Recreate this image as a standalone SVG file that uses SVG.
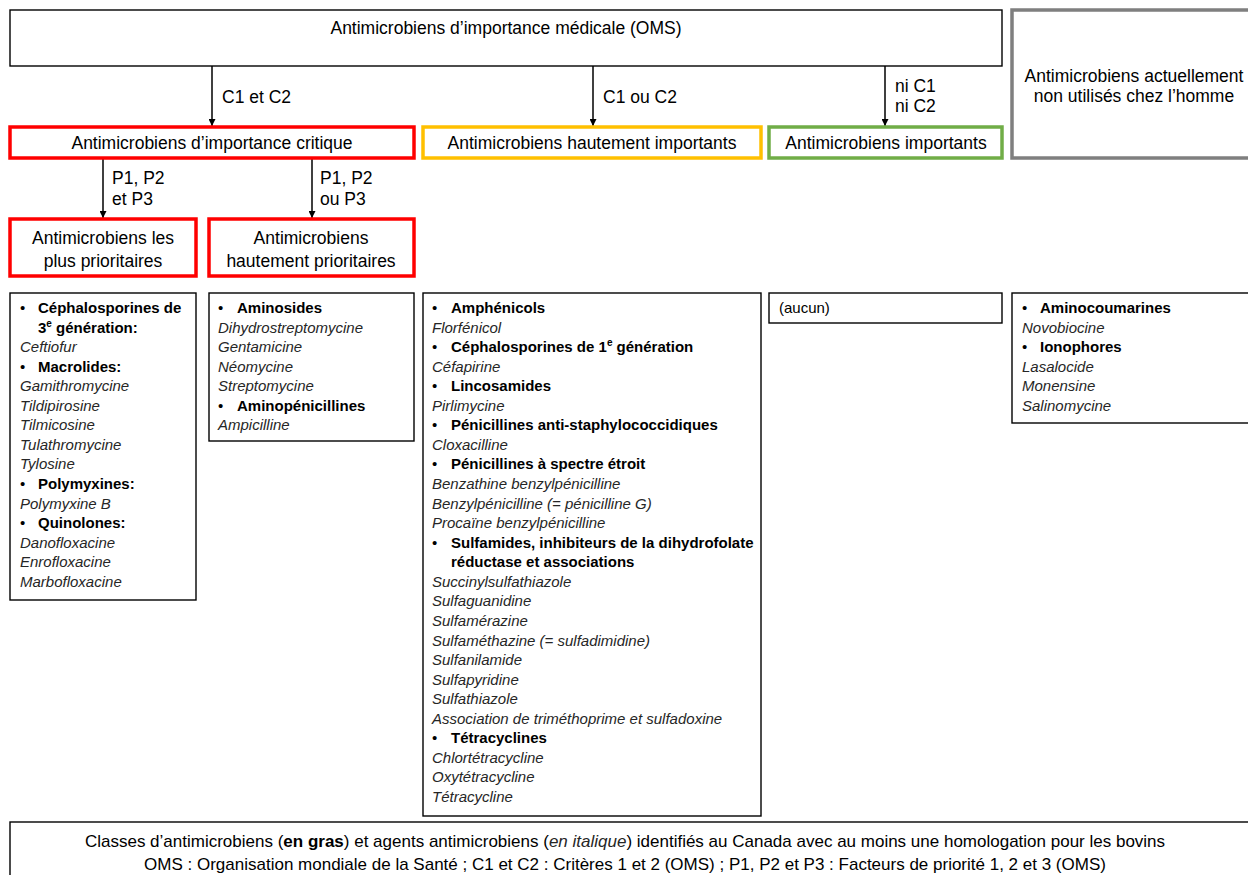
<svg xmlns="http://www.w3.org/2000/svg" width="1248" height="875" viewBox="0 0 1248 875">
<style>
text{font-family:"Liberation Sans",Arial,sans-serif;fill:#000}
.h{font-size:17.5px}
.c{text-anchor:middle}
.l{font-size:15px}
.b{font-weight:bold}
.u{font-weight:normal}
.i{font-style:italic;fill:#262626}
.box{fill:#fff;stroke:#000;stroke-width:1.4}
.red{fill:#fff;stroke:#ff0000;stroke-width:3.5}
.org{fill:#fff;stroke:#ffc000;stroke-width:3.5}
.grn{fill:#fff;stroke:#70ad47;stroke-width:3.5}
.gry{fill:#fff;stroke:#7f7f7f;stroke-width:3.5}
.edge{stroke:#000;stroke-width:1.5;fill:none;marker-end:url(#ah)}
</style>
<defs>
<marker id="ah" viewBox="0 0 10 10" refX="10" refY="5" markerWidth="7" markerHeight="7" markerUnits="userSpaceOnUse" orient="auto">
<path d="M0,0 L10,5 L0,10 z" fill="#000"/>
</marker>
</defs>
<rect width="1248" height="875" fill="#fff"/>

<g id="connectors">
<line class="edge" x1="212" y1="66" x2="212" y2="126"/>
<line class="edge" x1="593" y1="66" x2="593" y2="126"/>
<line class="edge" x1="885" y1="66" x2="885" y2="126"/>
<line class="edge" x1="103" y1="158" x2="103" y2="218"/>
<line class="edge" x1="312" y1="158" x2="312" y2="218"/>
<text class="h" x="222" y="103">C1 et C2</text>
<text class="h" x="603" y="103">C1 ou C2</text>
<text class="h" x="895" y="92">ni C1</text>
<text class="h" x="895" y="112">ni C2</text>
<text class="h" x="112" y="184">P1, P2</text>
<text class="h" x="112" y="205">et P3</text>
<text class="h" x="320" y="184">P1, P2</text>
<text class="h" x="320" y="205">ou P3</text>
</g>

<g id="oms">
<rect class="box" x="10" y="10" width="992" height="56"/>
<text class="h c" x="506" y="34">Antimicrobiens d’importance médicale (OMS)</text>
</g>

<g id="non-utilises">
<rect class="gry" x="1012" y="10" width="250" height="148"/>
<text class="h c" x="1134" y="82">Antimicrobiens actuellement</text>
<text class="h c" x="1134" y="102">non utilisés chez l’homme</text>
</g>

<g id="critique">
<rect class="red" x="10" y="127" width="404" height="31"/>
<text class="h c" x="212" y="149">Antimicrobiens d’importance critique</text>
</g>

<g id="hautement-importants">
<rect class="org" x="423" y="127" width="338" height="31"/>
<text class="h c" x="592" y="149">Antimicrobiens hautement importants</text>
</g>

<g id="importants">
<rect class="grn" x="769" y="127" width="233" height="31"/>
<text class="h c" x="886" y="149">Antimicrobiens importants</text>
</g>

<g id="plus-prioritaires">
<rect class="red" x="10" y="219" width="186" height="57"/>
<text class="h c" x="103" y="244">Antimicrobiens les</text>
<text class="h c" x="103" y="267">plus prioritaires</text>
</g>

<g id="hautement-prioritaires">
<rect class="red" x="209" y="219" width="205" height="57"/>
<text class="h c" x="311" y="244">Antimicrobiens</text>
<text class="h c" x="311" y="267">hautement prioritaires</text>
</g>

<g id="liste-plus-prioritaires">
<rect class="box" x="10" y="293" width="186" height="307"/>
<text class="l" y="313">
<tspan x="20" class="u">•</tspan><tspan x="38" class="b">Céphalosporines de</tspan>
<tspan x="38" dy="19.55" class="b">3<tspan dy="-6" font-size="10">e</tspan><tspan dy="6"> génération:</tspan></tspan>
<tspan x="20" dy="19.55" class="i">Ceftiofur</tspan>
<tspan x="20" dy="19.55" class="u">•</tspan><tspan x="38" class="b">Macrolides:</tspan>
<tspan x="20" dy="19.55" class="i">Gamithromycine</tspan>
<tspan x="20" dy="19.55" class="i">Tildipirosine</tspan>
<tspan x="20" dy="19.55" class="i">Tilmicosine</tspan>
<tspan x="20" dy="19.55" class="i">Tulathromycine</tspan>
<tspan x="20" dy="19.55" class="i">Tylosine</tspan>
<tspan x="20" dy="19.55" class="u">•</tspan><tspan x="38" class="b">Polymyxines:</tspan>
<tspan x="20" dy="19.55" class="i">Polymyxine B</tspan>
<tspan x="20" dy="19.55" class="u">•</tspan><tspan x="38" class="b">Quinolones:</tspan>
<tspan x="20" dy="19.55" class="i">Danofloxacine</tspan>
<tspan x="20" dy="19.55" class="i">Enrofloxacine</tspan>
<tspan x="20" dy="19.55" class="i">Marbofloxacine</tspan>
</text>
</g>

<g id="liste-hautement-prioritaires">
<rect class="box" x="209" y="293" width="205" height="148"/>
<text class="l" y="313">
<tspan x="218" class="u">•</tspan><tspan x="237" class="b">Aminosides</tspan>
<tspan x="218" dy="19.55" class="i">Dihydrostreptomycine</tspan>
<tspan x="218" dy="19.55" class="i">Gentamicine</tspan>
<tspan x="218" dy="19.55" class="i">Néomycine</tspan>
<tspan x="218" dy="19.55" class="i">Streptomycine</tspan>
<tspan x="218" dy="19.55" class="u">•</tspan><tspan x="237" class="b">Aminopénicillines</tspan>
<tspan x="218" dy="19.55" class="i">Ampicilline</tspan>
</text>
</g>

<g id="liste-hautement-importants">
<rect class="box" x="423" y="293" width="338" height="523"/>
<text class="l" y="313">
<tspan x="432" class="u">•</tspan><tspan x="451" class="b">Amphénicols</tspan>
<tspan x="432" dy="19.56" class="i">Florfénicol</tspan>
<tspan x="432" dy="19.56" class="u">•</tspan><tspan x="451" class="b">Céphalosporines de 1<tspan dy="-6" font-size="10">e</tspan><tspan dy="6"> génération</tspan></tspan>
<tspan x="432" dy="19.56" class="i">Céfapirine</tspan>
<tspan x="432" dy="19.56" class="u">•</tspan><tspan x="451" class="b">Lincosamides</tspan>
<tspan x="432" dy="19.56" class="i">Pirlimycine</tspan>
<tspan x="432" dy="19.56" class="u">•</tspan><tspan x="451" class="b">Pénicillines anti-staphylococcidiques</tspan>
<tspan x="432" dy="19.56" class="i">Cloxacilline</tspan>
<tspan x="432" dy="19.56" class="u">•</tspan><tspan x="451" class="b">Pénicillines à spectre étroit</tspan>
<tspan x="432" dy="19.56" class="i">Benzathine benzylpénicilline</tspan>
<tspan x="432" dy="19.56" class="i">Benzylpénicilline (= pénicilline G)</tspan>
<tspan x="432" dy="19.56" class="i">Procaïne benzylpénicilline</tspan>
<tspan x="432" dy="19.56" class="u">•</tspan><tspan x="451" class="b">Sulfamides, inhibiteurs de la dihydrofolate</tspan>
<tspan x="451" dy="19.56" class="b">réductase et associations</tspan>
<tspan x="432" dy="19.56" class="i">Succinylsulfathiazole</tspan>
<tspan x="432" dy="19.56" class="i">Sulfaguanidine</tspan>
<tspan x="432" dy="19.56" class="i">Sulfamérazine</tspan>
<tspan x="432" dy="19.56" class="i">Sulfaméthazine (= sulfadimidine)</tspan>
<tspan x="432" dy="19.56" class="i">Sulfanilamide</tspan>
<tspan x="432" dy="19.56" class="i">Sulfapyridine</tspan>
<tspan x="432" dy="19.56" class="i">Sulfathiazole</tspan>
<tspan x="432" dy="19.56" class="i">Association de triméthoprime et sulfadoxine</tspan>
<tspan x="432" dy="19.56" class="u">•</tspan><tspan x="451" class="b">Tétracyclines</tspan>
<tspan x="432" dy="19.56" class="i">Chlortétracycline</tspan>
<tspan x="432" dy="19.56" class="i">Oxytétracycline</tspan>
<tspan x="432" dy="19.56" class="i">Tétracycline</tspan>
</text>
</g>

<g id="liste-importants">
<rect class="box" x="769" y="293" width="233" height="30"/>
<text class="l" x="779" y="313">(aucun)</text>
</g>

<g id="liste-non-utilises">
<rect class="box" x="1012" y="293" width="250" height="130"/>
<text class="l" y="313">
<tspan x="1022" class="u">•</tspan><tspan x="1040" class="b">Aminocoumarines</tspan>
<tspan x="1022" dy="19.55" class="i">Novobiocine</tspan>
<tspan x="1022" dy="19.55" class="u">•</tspan><tspan x="1040" class="b">Ionophores</tspan>
<tspan x="1022" dy="19.55" class="i">Lasalocide</tspan>
<tspan x="1022" dy="19.55" class="i">Monensine</tspan>
<tspan x="1022" dy="19.55" class="i">Salinomycine</tspan>
</text>
</g>

<g id="legende">
<rect class="box" x="10" y="822" width="1250" height="70"/>
<text class="c" font-size="17" x="625" y="847">Classes d’antimicrobiens (<tspan class="b">en gras</tspan>) et agents antimicrobiens (<tspan class="i">en italique</tspan>) identifiés au Canada avec au moins une homologation pour les bovins</text>
<text class="c" font-size="17" x="625" y="870">OMS : Organisation mondiale de la Santé ; C1 et C2 : Critères 1 et 2 (OMS) ; P1, P2 et P3 : Facteurs de priorité 1, 2 et 3 (OMS)</text>
</g>
</svg>
